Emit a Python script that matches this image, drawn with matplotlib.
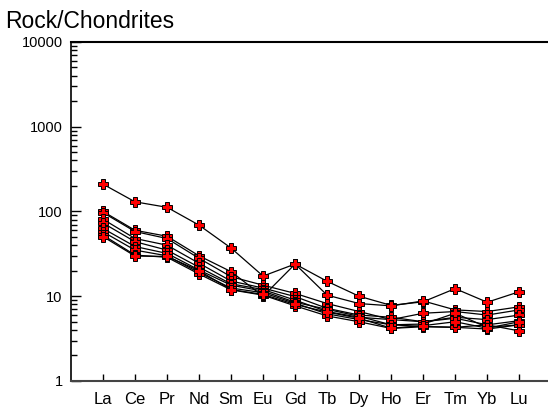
import matplotlib
matplotlib.use("Agg")
import matplotlib.pyplot as plt
from matplotlib.ticker import LogLocator, NullFormatter

plt.rcParams["font.family"] = ["Liberation Sans", "DejaVu Sans"]

elements = ["La", "Ce", "Pr", "Nd", "Sm", "Eu", "Gd", "Tb", "Dy", "Ho", "Er", "Tm", "Yb", "Lu"]

# chondrite-normalised values, one list per sample
s1 = [210, 130, 112, 69, 37, 17.3, 24, 15, 10, 7.8, 8.6, 12.3, 8.5, 11.3]
s2 = [100, 60, 51, 30, 19.5, 10, 24, 10.3, 8.2, 7.7, 8.8, 6.9, 6.6, 7.5]
s3 = [97, 58, 48, 28, 17, 13.5, 10.8, 8.2, 6.6, 5.3, 6.3, 6.6, 6.0, 6.9]
s4 = [81, 48, 40, 24.5, 15.1, 12.5, 9.9, 7.2, 6.0, 5.65, 5.0, 5.65, 5.3, 6.0]
s5 = [73, 44, 35, 22, 14, 12, 9.0, 6.6, 5.65, 5.3, 5.0, 5.5, 4.6, 5.15]
s6 = [63, 38.6, 32, 20.4, 13.5, 11.5, 8.5, 7.0, 5.8, 4.6, 4.7, 6.3, 4.3, 4.6]
s7 = [57.5, 35, 30, 19, 12.5, 11, 8.25, 6.2, 5.3, 4.6, 4.4, 4.3, 4.1, 4.6]
s8 = [52.6, 30.6, 28.8, 18.3, 11.9, 10.3, 7.7, 5.86, 5.0, 4.17, 4.37, 4.3, 4.6, 3.9]
s9 = [50.5, 29.8, 29.5, 20, 12, 10.5, 8, 6.5, 5.5, 4.2, 4.5, 5.0, 4.2, 5.0]
samples = [s1, s2, s3, s4, s5, s6, s7, s8, s9]

fig = plt.figure(figsize=(5.48, 4.19), dpi=100)
ax = fig.add_axes([0.1296, 0.0907, 0.8704, 0.8091])

xs = list(range(1, len(elements) + 1))
for s in samples:
    ax.plot(xs, s, "-", color="black", linewidth=0.9,
            marker="P", markersize=7, markerfacecolor="red",
            markeredgecolor="black", markeredgewidth=0.7)

ax.set_yscale("log")
ax.set_ylim(1, 10000)
ax.set_xlim(0, 14.9)

ax.yaxis.set_minor_locator(LogLocator(base=10, subs=range(2, 10)))
ax.yaxis.set_minor_formatter(NullFormatter())
ax.set_yticks([1, 10, 100, 1000, 10000])
ax.set_yticklabels(["1", "10", "100", "1000", "10000"], fontsize=10.5)
ax.set_xticks(xs)
ax.set_xticklabels(elements, fontsize=12)

ax.tick_params(axis="y", which="major", direction="in", length=7, width=1, pad=6)
ax.tick_params(axis="y", which="minor", direction="in", length=4.5, width=1)
ax.tick_params(axis="x", which="major", direction="in", length=5, width=1, pad=8)
ax.tick_params(axis="x", which="minor", bottom=False)

ax.spines["right"].set_visible(False)
ax.spines["top"].set_linewidth(1.5)
ax.spines["left"].set_linewidth(1.2)
ax.spines["bottom"].set_linewidth(1.5)
ax.spines["bottom"].set_color("#444444")

fig.text(0.009, 0.975, "Rock/Chondrites", fontsize=16.5, va="top", ha="left")

fig.savefig("out.png", dpi=100)
